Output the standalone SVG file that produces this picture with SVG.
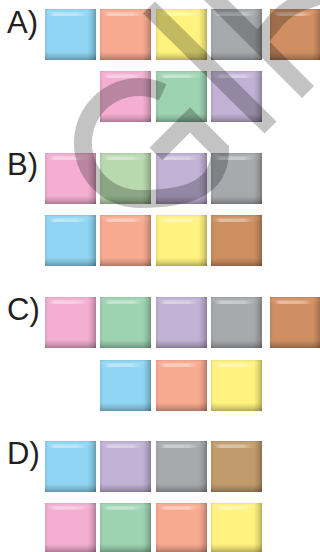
<svg xmlns="http://www.w3.org/2000/svg" xmlns:xlink="http://www.w3.org/1999/xlink" width="320" height="552" viewBox="0 0 320 552">
<style>
.lbl{font-family:"Liberation Sans",Arial,sans-serif;font-size:31px;fill:#231f20}
.wm{fill:none;stroke:#000;stroke-linecap:butt;stroke-linejoin:miter}
</style>
<defs>
<linearGradient id="gv" x1="0" y1="0" x2="0" y2="1">
<stop offset="0" stop-color="#000" stop-opacity="0.06"/>
<stop offset="0.04" stop-color="#fff" stop-opacity="0.08"/>
<stop offset="0.16" stop-color="#fff" stop-opacity="0"/>
<stop offset="0.84" stop-color="#000" stop-opacity="0"/>
<stop offset="0.93" stop-color="#000" stop-opacity="0.14"/>
<stop offset="1" stop-color="#000" stop-opacity="0.3"/>
</linearGradient>
<linearGradient id="gh" x1="0" y1="0" x2="1" y2="0">
<stop offset="0" stop-color="#000" stop-opacity="0.08"/>
<stop offset="0.06" stop-color="#000" stop-opacity="0"/>
<stop offset="0.84" stop-color="#000" stop-opacity="0"/>
<stop offset="0.93" stop-color="#000" stop-opacity="0.12"/>
<stop offset="1" stop-color="#000" stop-opacity="0.28"/>
</linearGradient>
<linearGradient id="ghl" x1="0" y1="0" x2="1" y2="0">
<stop offset="0" stop-color="#fff" stop-opacity="0"/>
<stop offset="0.15" stop-color="#fff" stop-opacity="0.4"/>
<stop offset="0.75" stop-color="#fff" stop-opacity="0.35"/>
<stop offset="1" stop-color="#fff" stop-opacity="0"/>
</linearGradient>
<g id="bevel">
<rect width="51" height="51" fill="url(#gv)"/>
<rect width="51" height="51" fill="url(#gh)"/>
<rect x="4" y="3.5" width="38" height="3.5" fill="url(#ghl)"/>
</g>
</defs>
<rect width="320" height="552" fill="#fff"/>

<g id="labels">
<text class="lbl" x="7" y="33">A)</text>
<text class="lbl" x="7" y="175">B)</text>
<text class="lbl" x="7" y="320">C)</text>
<text class="lbl" x="7" y="464">D)</text>
</g>

<g id="optionA">
<g id="A1" transform="translate(45 9)"><rect width="51" height="51" fill="#8fd5f3"/><use href="#bevel"/></g>
<g id="A2" transform="translate(100 9)"><rect width="51" height="51" fill="#f8aa90"/><use href="#bevel"/></g>
<g id="A3" transform="translate(156 9)"><rect width="51" height="51" fill="#fff27f"/><use href="#bevel"/></g>
<g id="A4" transform="translate(211 9)"><rect width="51" height="51" fill="#a7a9ac"/><use href="#bevel"/></g>
<g id="A5" transform="translate(270 9)"><rect width="51" height="51" fill="#cf8f62"/><use href="#bevel"/></g>
<g id="A6" transform="translate(100 71)"><rect width="51" height="51" fill="#f3aed1"/><use href="#bevel"/></g>
<g id="A7" transform="translate(156 71)"><rect width="51" height="51" fill="#9ed3b2"/><use href="#bevel"/></g>
<g id="A8" transform="translate(211 71)"><rect width="51" height="51" fill="#c1b1d5"/><use href="#bevel"/></g>
</g>

<g id="optionB">
<g id="B1" transform="translate(45 153)"><rect width="51" height="51" fill="#f3aed1"/><use href="#bevel"/></g>
<g id="B2" transform="translate(100 153)"><rect width="51" height="51" fill="#b8d8ae"/><use href="#bevel"/></g>
<g id="B3" transform="translate(156 153)"><rect width="51" height="51" fill="#c1b1d5"/><use href="#bevel"/></g>
<g id="B4" transform="translate(211 153)"><rect width="51" height="51" fill="#a7a9ac"/><use href="#bevel"/></g>
<g id="B5" transform="translate(45 215)"><rect width="51" height="51" fill="#8fd5f3"/><use href="#bevel"/></g>
<g id="B6" transform="translate(100 215)"><rect width="51" height="51" fill="#f8aa90"/><use href="#bevel"/></g>
<g id="B7" transform="translate(156 215)"><rect width="51" height="51" fill="#fff27f"/><use href="#bevel"/></g>
<g id="B8" transform="translate(211 215)"><rect width="51" height="51" fill="#cd8e60"/><use href="#bevel"/></g>
</g>

<g id="optionC">
<g id="C1" transform="translate(45 297)"><rect width="51" height="51" fill="#f3aed1"/><use href="#bevel"/></g>
<g id="C2" transform="translate(100 297)"><rect width="51" height="51" fill="#9ed3b2"/><use href="#bevel"/></g>
<g id="C3" transform="translate(156 297)"><rect width="51" height="51" fill="#c1b1d5"/><use href="#bevel"/></g>
<g id="C4" transform="translate(211 297)"><rect width="51" height="51" fill="#a7a9ac"/><use href="#bevel"/></g>
<g id="C5" transform="translate(270 297)"><rect width="51" height="51" fill="#cf8f62"/><use href="#bevel"/></g>
<g id="C6" transform="translate(100 360)"><rect width="51" height="51" fill="#8fd5f3"/><use href="#bevel"/></g>
<g id="C7" transform="translate(156 360)"><rect width="51" height="51" fill="#f8aa90"/><use href="#bevel"/></g>
<g id="C8" transform="translate(211 360)"><rect width="51" height="51" fill="#fff27f"/><use href="#bevel"/></g>
</g>

<g id="optionD">
<g id="D1" transform="translate(45 441)"><rect width="51" height="51" fill="#8fd5f3"/><use href="#bevel"/></g>
<g id="D2" transform="translate(100 441)"><rect width="51" height="51" fill="#c1b1d5"/><use href="#bevel"/></g>
<g id="D3" transform="translate(156 441)"><rect width="51" height="51" fill="#a7a9ac"/><use href="#bevel"/></g>
<g id="D4" transform="translate(211 441)"><rect width="51" height="51" fill="#c19b6c"/><use href="#bevel"/></g>
<g id="D5" transform="translate(45 503) scale(1 0.96)"><rect width="51" height="51" fill="#f3aed1"/><use href="#bevel"/></g>
<g id="D6" transform="translate(100 503) scale(1 0.96)"><rect width="51" height="51" fill="#9ed3b2"/><use href="#bevel"/></g>
<g id="D7" transform="translate(156 503) scale(1 0.96)"><rect width="51" height="51" fill="#f8aa90"/><use href="#bevel"/></g>
<g id="D8" transform="translate(211 503) scale(1 0.96)"><rect width="51" height="51" fill="#fff27f"/><use href="#bevel"/></g>
</g>

<g id="watermark" opacity="0.23">
<path class="wm" stroke-width="18" d="M162.7,92.3 A56,56 0 1 0 139,199 C185,199 220,190 220,150 L190,120 L156,154"/>
<path class="wm" stroke-width="17" d="M149,7.5 L270.5,127.5"/>
<path class="wm" stroke-width="17" d="M200,-16 L308,92"/>
<path class="wm" stroke-width="17" d="M258,42 L276,20 Q286,9 300,3 L325,-6"/>
</g>
</svg>
